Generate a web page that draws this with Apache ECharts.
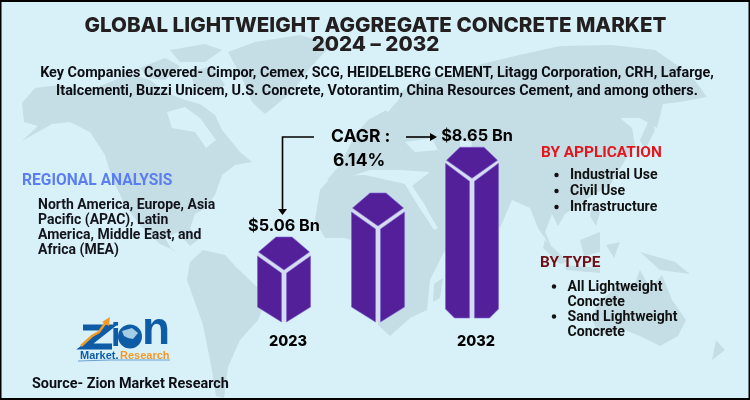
<!DOCTYPE html>
<html><head><meta charset="utf-8">
<style>html,body{margin:0;padding:0;background:#d8f1f9}#c{width:750px;height:400px}</style>
<script src="https://cdn.jsdelivr.net/npm/echarts@6/dist/echarts.min.js"></script>
</head><body><div id="c"></div>
<script>
const categories = ['2023', '', '2032'];
const marketValues = [5.06, 6.82, 8.65];
const valueLabels = ['$5.06 Bn', '', '$8.65 Bn'];
const titleLines = ['GLOBAL LIGHTWEIGHT AGGREGATE CONCRETE MARKET', '2024 – 2032'];
const companyLines = ['Key Companies Covered- Cimpor, Cemex, SCG, HEIDELBERG CEMENT, Litagg Corporation, CRH, Lafarge,',
  'Italcementi, Buzzi Unicem, U.S. Concrete, Votorantim, China Resources Cement, and among others.'];
const regionLines = ['North America, Europe, Asia', 'Pacific (APAC), Latin', 'America, Middle East, and', 'Africa (MEA)'];
const applicationItems = ['Industrial Use', 'Civil Use', 'Infrastructure'];
const typeLines = [['All Lightweight', 'Concrete'], ['Sand Lightweight', 'Concrete']];

const LAND = '#c5dde5', SEA = '#d8f1f9';
const BODY = 'Roboto', HEAD = 'Inter';
const land = [
 [[22,103],[35,88],[60,85],[85,92],[110,82],[130,74],[150,80],[165,92],[185,100],[200,104],[215,115],[222,130],[240,152],[252,162],[235,165],[222,175],[215,195],[205,208],[195,214],[190,228],[198,240],[190,246],[178,232],[165,238],[172,250],[190,256],[178,252],[160,244],[140,225],[125,205],[112,178],[105,155],[90,132],[70,122],[52,124],[22,141],[38,126],[24,122]],
 [[228,52],[255,42],[300,35],[332,44],[310,68],[292,92],[265,114],[252,102],[242,78]],
 [[140,68],[165,58],[180,66],[165,80],[148,78]],[[170,50],[205,44],[222,50],[205,62],[180,62]],[[190,72],[212,66],[225,85],[210,96],[195,88]],
 [[203,250],[225,255],[235,266],[260,290],[263,307],[258,320],[240,340],[228,367],[224,398],[216,396],[212,370],[203,325],[187,280],[190,262]],
 [[327,180],[340,165],[355,135],[368,120],[390,108],[400,92],[425,78],[455,76],[482,64],[515,56],[560,46],[612,45],[655,50],[690,74],[707,97],[680,102],[663,104],[657,128],[640,118],[620,118],[632,128],[635,145],[624,162],[610,185],[585,200],[565,214],[558,226],[552,214],[545,232],[552,248],[538,228],[530,208],[512,200],[500,228],[490,215],[482,198],[458,198],[466,222],[440,238],[425,205],[412,186],[430,172],[400,170],[370,170],[345,178]],
 [[320,190],[332,176],[365,175],[405,184],[417,204],[433,228],[460,224],[443,254],[430,280],[427,310],[410,318],[390,336],[378,325],[372,285],[365,245],[345,238],[325,238],[315,220]],
 [[434,284],[443,278],[440,298],[433,302]],
 [[598,302],[620,285],[635,283],[640,270],[650,288],[662,275],[672,300],[686,320],[678,336],[660,346],[640,336],[620,328],[600,336],[592,320]],
 [[545,240],[568,262],[560,264],[543,248]],[[565,265],[600,268],[600,273],[566,270]],[[580,240],[600,232],[600,252],[584,256]],[[606,245],[620,242],[614,258]],[[640,252],[675,262],[690,274],[660,270]],[[592,205],[600,212],[596,226],[590,216]],[[640,140],[650,118],[655,130],[645,150]],[[716,340],[725,350],[712,360]]
];
const seas = [
 [[167,112],[185,107],[200,118],[216,140],[206,148],[195,132],[172,128]],
 [[405,142],[432,138],[438,150],[415,152]],
 [[460,140],[472,142],[470,158],[460,156]],
 [[405,184],[411,184],[438,228],[434,230]],
 [[378,105],[398,92],[400,98],[388,112]]
];
const poly = (p, fill) => ({type:'polygon', silent:true, z:1, shape:{points:p}, style:{fill}});
const txt = (x, y, text, font, size, fill, align, weight) => ({type:'text', silent:true, z:5, x, y,
  style:{text, fontFamily:font, fontSize:size, fontWeight:weight||700, fill:fill||'#111', align:align||'left', verticalAlign:'middle'}});
const line = (pts, w, c) => ({type:'polyline', silent:true, z:5, shape:{points:pts}, style:{stroke:c||'#000', lineWidth:w||1.6, fill:null}});

const g = [];
land.forEach(p => g.push(poly(p, LAND)));
seas.forEach(p => g.push(poly(p, SEA)));
titleLines.forEach((t,i) => g.push(txt(375.5, 26+i*19, t, HEAD, 20.6, '#231f20', 'center', 800)));
companyLines.forEach((t,i) => g.push(txt(377, 73+i*18.5, t, BODY, 14.4, '#0d0d14', 'center', 700)));
g.push(txt(22, 181, 'REGIONAL ANALYSIS', BODY, 15.6, '#5b7ff0', 'left', 700));
regionLines.forEach((t,i) => g.push(txt(38, 205+i*15, t, BODY, 14, '#14141c')));
g.push(txt(541, 153, 'BY APPLICATION', BODY, 15.4, '#e3161d'));
applicationItems.forEach((t,i) => {
  g.push({type:'circle', silent:true, z:5, shape:{cx:556.5, cy:175+i*16, r:2.2}, style:{fill:'#111'}});
  g.push(txt(570, 175.5+i*16, t, BODY, 14.1));
});
g.push(txt(540, 263, 'BY TYPE', BODY, 15.4, '#6e1015'));
typeLines.forEach((pair,i) => {
  g.push({type:'circle', silent:true, z:5, shape:{cx:554, cy:286.5+i*30, r:2.2}, style:{fill:'#111'}});
  pair.forEach((t,j) => g.push(txt(567.5, 287+i*30+j*15, t, BODY, 14.1)));
});
g.push(txt(32, 384.5, 'Source- Zion Market Research', BODY, 14.4, '#0d0d14'));
g.push(txt(331, 137, 'CAGR :', HEAD, 17.5, '#000'));
g.push(txt(333, 161, '6.14%', HEAD, 17.5, '#000'));
g.push(line([[314,137],[282.5,137],[282.5,210]]));
g.push({type:'polygon', silent:true, z:5, shape:{points:[[278,209],[287,209],[282.5,215]]}, style:{fill:'#000'}});
g.push(line([[406,137],[431,137]]));
g.push({type:'polygon', silent:true, z:5, shape:{points:[[430,133],[437,137],[430,141]]}, style:{fill:'#000'}});
// logo
g.push(line([[83,327.5],[109,327.5],[85,346.5],[112,346.5]], 6, '#0f5ca6'));
g.push(txt(111, 337, 'i', 'Liberation Sans', 34, '#0f5ca6', 'left', 900));
g.push({type:'circle', silent:true, z:5, shape:{cx:130, cy:336.5, r:12}, style:{fill:'#0f5ca6'}});
g.push({type:'polygon', silent:true, z:6, shape:{points:[[122,331],[132,328],[138,333],[133,339],[128,338],[124,336]]}, style:{fill:'#d8f1f9', opacity:.75}});
g.push(txt(142, 331, 'n', 'Liberation Sans', 46, '#0f5ca6', 'left', 900));
g.push(line([[81,346],[92,336],[99,332],[106,322]], 2.5, '#f39a26'));
g.push({type:'polygon', silent:true, z:6, shape:{points:[[102,322],[110,317],[109,326]]}, style:{fill:'#f39a26'}});
g.push(txt(80, 355.5, 'Market.', 'Liberation Sans', 11, '#0f5ca6'));
g.push(txt(120, 355.5, 'Research', 'Liberation Sans', 11, '#f39a26'));
g.push(line([[78,361],[110,360],[125,360],[170,360]], 1, '#6aa0d0'));
g.push({type:'rect', silent:true, z:20, shape:{x:0.5,y:1,width:749,height:398}, style:{fill:null, stroke:'#000', lineWidth:2}});

function renderBar(params, api) {
  const i = api.value(0), v = api.value(1);
  const [cx, ty] = api.coord([i, v]);
  const base = api.coord([i, 1.66])[1];
  const hw = 26.5;
  const flat = i === 2 ? 12 : 8;
  const by = i === 2 ? base - 4 : base;
  const chip = i === 2 ? 9 : 15;
  const fill = '#53209a', edge = '#8060d8', gap = '#d5dcf0';
  const leftFace = i === 2
    ? [[cx-hw,ty+16],[cx-2.5,ty+34],[cx-2.5,by],[cx-hw+9,by],[cx-hw,by-chip]]
    : [[cx-hw,ty+19],[cx-2.5,ty+36],[cx-2.5,by],[cx-hw,by-chip]];
  const rightFace = i === 2
    ? [[cx+2.5,ty+34],[cx+hw,ty+16],[cx+hw,by-chip],[cx+hw-9,by],[cx+2.5,by]]
    : [[cx+2.5,ty+36],[cx+hw,ty+19],[cx+hw,by-chip],[cx+2.5,by]];
  const capY = i === 2 ? 13 : 15, capB = i === 2 ? 31 : 33;
  const mk = (points) => ({type:'polygon', shape:{points}, style:{fill, stroke:edge, lineWidth:.6}});
  const children = [
    {type:'polyline', shape:{points:[[cx-hw,ty+capY+2],[cx,ty+capB+2],[cx+hw,ty+capY+2]]}, style:{stroke:gap, lineWidth:3, fill:null}},
    {type:'polyline', shape:{points:[[cx,ty+capB+2],[cx,by]]}, style:{stroke:gap, lineWidth:4, fill:null}},
    mk([[cx-flat,ty],[cx+flat,ty],[cx+hw-1,ty+capY],[cx,ty+capB],[cx-hw+1,ty+capY]]),
    mk(leftFace), mk(rightFace)
  ];
  const label = valueLabels[i];
  if (label) children.push({type:'text', x: cx + (i === 2 ? 5 : 0), y: ty - 11, style:{text:label, fontFamily:HEAD, fontSize:16.3, fontWeight:700, fill:'#000', align:'center', verticalAlign:'middle'}});
  return {type:'group', children};
}

const chart = echarts.init(document.getElementById('c'), null, {renderer:'canvas'});
chart.setOption({
  animation:false,
  backgroundColor:SEA,
  graphic:g,
  grid:{left:237, width:282, top:141, bottom:78},
  xAxis:{type:'category', data:categories, axisLine:{show:false}, axisTick:{show:false},
    axisLabel:{margin:12, padding:[0,0,0,8], fontFamily:HEAD, fontSize:14.5, fontWeight:800, color:'#000', interval:0}},
  yAxis:{type:'value', min:1.66, max:8.9, show:false},
  series:[{type:'custom', z:4, clip:false, renderItem:renderBar,
    encode:{x:0,y:1}, data:marketValues.map((v,i)=>[i,v])}]
});
</script></body></html>
